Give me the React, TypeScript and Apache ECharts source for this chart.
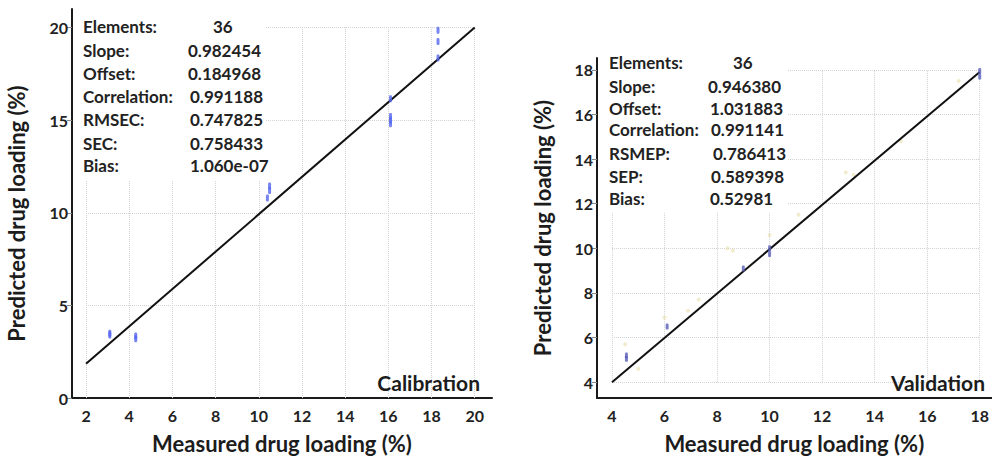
import React, { useEffect, useRef } from "react";
import * as echarts from "echarts";

// ---------- Data ----------
const calibXTicks = [2, 4, 6, 8, 10, 12, 14, 16, 18, 20];
const calibYTicks = [0, 5, 10, 15, 20];
const validXTicks = [4, 6, 8, 10, 12, 14, 16, 18];
const validYTicks = [4, 6, 8, 10, 12, 14, 16, 18];

const calibMeasured = [3.1, 3.1, 4.3, 4.3, 10.4, 10.5, 10.5, 16.1, 16.1, 16.1, 16.1, 18.3, 18.3, 18.3];
const calibPredicted = [3.5, 3.4, 3.35, 3.2, 10.8, 11.2, 11.45, 15.2, 15.0, 14.8, 16.15, 19.85, 19.25, 18.35];

const validMeasured = [4.55, 4.55, 6.1, 9.0, 10.0, 10.0, 18.0, 18.0];
const validPredicted = [5.2, 5.05, 6.5, 9.1, 9.75, 10.0, 17.95, 17.7];
const validFaintMeasured = [4.5, 5.0, 6.0, 6.9, 7.3, 8.4, 8.6, 10.0, 11.1, 12.9, 13.2, 15.0, 17.2];
const validFaintPredicted = [5.7, 4.6, 6.9, 7.2, 7.7, 10.0, 9.9, 10.6, 11.5, 13.4, 13.3, 14.8, 17.5];

const calibLineX = [2, 20];
const calibLineY = [1.85, 20];
const validLineX = [4, 18];
const validLineY = [4, 17.9];

const calibStatLabels = ["Elements:", "Slope:", "Offset:", "Correlation:", "RMSEC:", "SEC:", "Bias:"];
const calibStatValues = ["36", "0.982454", "0.184968", "0.991188", "0.747825", "0.758433", "1.060e-07"];
const validStatLabels = ["Elements:", "Slope:", "Offset:", "Correlation:", "RSMEP:", "SEP:", "Bias:"];
const validStatValues = ["36", "0.946380", "1.031883", "0.991141", "0.786413", "0.589398", "0.52981"];

const xTitle = "Measured drug loading (%)";
const yTitle = "Predicted drug loading (%)";

// ---------- Layout / style ----------
const FONT = "Lato, 'Open Sans', sans-serif";
const TEXT = "#1c1c1c";
const AXIS = "#1a1a1a";

function zip(a: number[], b: number[]) {
  return a.map((v, i) => [v, b[i]]);
}

function gridLineData(xs: number[], ys: number[], x0: number, x1: number, y0: number, y1: number) {
  const out: any[] = [];
  xs.forEach((x) => out.push([{ coord: [x, y0] }, { coord: [x, y1] }]));
  ys.forEach((y) => out.push([{ coord: [x0, y] }, { coord: [x1, y] }]));
  return out;
}

function statTexts(labels: string[], values: string[], lx: number, vxs: number[], ys: number[]) {
  const els: any[] = [];
  const st = { fontSize: 17, fontWeight: "bold", fontFamily: FONT, fill: "#222", verticalAlign: "middle" };
  labels.forEach((l, i) => {
    els.push({ type: "text", x: lx, y: ys[i], z: 101, style: { ...st, text: l } });
    els.push({ type: "text", x: vxs[i], y: ys[i], z: 101, style: { ...st, text: values[i] } });
  });
  return els;
}

export default function App() {
  const ref = useRef<HTMLDivElement>(null);
  useEffect(() => {
    if (!ref.current) return;
    const chart = echarts.init(ref.current, null, { renderer: "svg" });

    const axisLabel = (vals: number[], margin: number) => ({
      customValues: vals,
      fontSize: 16,
      fontWeight: "bold",
      fontFamily: FONT,
      color: "#222",
      margin,
    });
    const nameStyle = { fontSize: 22, fontWeight: "bold", fontFamily: FONT, color: TEXT };
    const gridStyle = { type: "dotted", color: "#d2d2d2", width: 1 };

    const option: any = {
      animation: false,
      backgroundColor: "#ffffff",
      grid: [
        { left: 72, top: 9, width: 420, height: 393 },
        { left: 597, top: 58, width: 395, height: 344 },
      ],
      xAxis: [
        {
          gridIndex: 0,
          type: "value",
          min: 1.35,
          max: 20.8,
          axisLine: { show: true, onZero: false, lineStyle: { color: AXIS, width: 2 } },
          axisTick: { show: false },
          splitLine: { show: false },
          axisLabel: axisLabel(calibXTicks, 9),
          name: xTitle,
          nameLocation: "middle",
          nameGap: 34,
          nameTextStyle: nameStyle,
        },
        {
          gridIndex: 1,
          type: "value",
          min: 3.43,
          max: 18.45,
          axisLine: { show: true, onZero: false, lineStyle: { color: AXIS, width: 2 } },
          axisTick: { show: false },
          splitLine: { show: false },
          axisLabel: axisLabel(validXTicks, 9),
          name: xTitle,
          nameLocation: "middle",
          nameGap: 34,
          nameTextStyle: nameStyle,
        },
      ],
      yAxis: [
        {
          gridIndex: 0,
          type: "value",
          min: 0,
          max: 21,
          axisLine: { show: true, onZero: false, lineStyle: { color: AXIS, width: 2 } },
          axisTick: { show: true, customValues: calibYTicks, length: 5, lineStyle: { color: "#888" } },
          splitLine: { show: false },
          axisLabel: axisLabel(calibYTicks, 4),
          name: yTitle,
          nameLocation: "middle",
          nameGap: 45,
          nameTextStyle: { ...nameStyle, padding: [0, 20, 0, 0] },
        },
        {
          gridIndex: 1,
          type: "value",
          min: 3.29,
          max: 18.53,
          axisLine: { show: true, onZero: false, lineStyle: { color: AXIS, width: 2 } },
          axisTick: { show: true, customValues: validYTicks, length: 5, lineStyle: { color: "#888" } },
          splitLine: { show: false },
          axisLabel: axisLabel(validYTicks, 4),
          name: yTitle,
          nameLocation: "middle",
          nameGap: 44,
          nameTextStyle: nameStyle,
        },
      ],
      series: [
        {
          type: "line",
          xAxisIndex: 0,
          yAxisIndex: 0,
          data: zip(calibLineX, calibLineY),
          symbol: "none",
          lineStyle: { color: "#111", width: 2 },
          z: 3,
          markLine: {
            silent: true,
            symbol: ["none", "none"],
            label: { show: false },
            lineStyle: gridStyle,
            z: 1,
            data: gridLineData(calibXTicks, calibYTicks.filter((v) => v > 0), 2, 20, 0, 20),
          },
        },
        {
          type: "scatter",
          xAxisIndex: 0,
          yAxisIndex: 0,
          data: zip(calibMeasured, calibPredicted),
          symbol: "roundRect",
          symbolSize: [3, 7],
          itemStyle: { color: "#5566ee", opacity: 0.8 },
          z: 4,
        },
        {
          type: "line",
          xAxisIndex: 1,
          yAxisIndex: 1,
          data: zip(validLineX, validLineY),
          symbol: "none",
          lineStyle: { color: "#111", width: 2 },
          z: 3,
          markLine: {
            silent: true,
            symbol: ["none", "none"],
            label: { show: false },
            lineStyle: gridStyle,
            z: 1,
            data: gridLineData(validXTicks, validYTicks, 4, 18, 4, 18),
          },
        },
        {
          type: "scatter",
          xAxisIndex: 1,
          yAxisIndex: 1,
          data: zip(validFaintMeasured, validFaintPredicted),
          symbol: "circle",
          symbolSize: 4,
          itemStyle: { color: "#eadfae", opacity: 0.6 },
          z: 2,
        },
        {
          type: "scatter",
          xAxisIndex: 1,
          yAxisIndex: 1,
          data: zip(validMeasured, validPredicted),
          symbol: "roundRect",
          symbolSize: [3, 6],
          itemStyle: { color: "#5a5fb8", opacity: 0.8 },
          z: 4,
        },
      ],
      graphic: [
        { type: "rect", z: 100, shape: { x: 74, y: 12, width: 192, height: 168 }, style: { fill: "#ffffff" } },
        { type: "rect", z: 100, shape: { x: 599, y: 50, width: 188, height: 162 }, style: { fill: "#ffffff" } },
        ...statTexts(
          calibStatLabels,
          calibStatValues,
          83,
          [213, 188, 188, 190, 190, 190, 190],
          [26, 50, 73, 96, 119, 143, 165]
        ),
        ...statTexts(
          validStatLabels,
          validStatValues,
          609,
          [733, 708, 710, 711, 713, 711, 710],
          [62, 86, 108, 129, 153, 176, 198]
        ),
        {
          type: "text",
          z: 101,
          x: 480,
          y: 382,
          style: { text: "Calibration", fontSize: 21, fontWeight: "bold", fontFamily: FONT, fill: TEXT, align: "right", verticalAlign: "middle" },
        },
        {
          type: "text",
          z: 101,
          x: 985,
          y: 382,
          style: { text: "Validation", fontSize: 21, fontWeight: "bold", fontFamily: FONT, fill: TEXT, align: "right", verticalAlign: "middle" },
        },
      ],
    };
    chart.setOption(option);
    return () => chart.dispose();
  }, []);
  return <div ref={ref} style={{ position: "fixed", left: 0, top: 0, width: 992, height: 459 }} />;
}
